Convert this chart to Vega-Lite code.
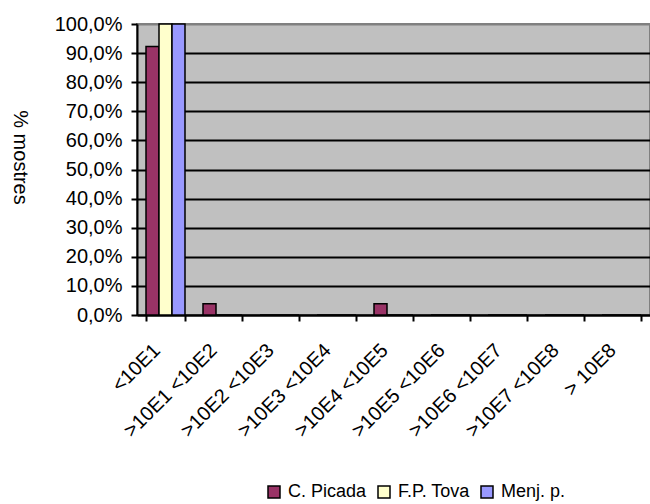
{
  "$schema": "https://vega.github.io/schema/vega-lite/v6.json",
  "width": 513,
  "height": 291,
  "autosize": {"type": "none"},
  "padding": {"left": 137, "top": 24, "right": 0, "bottom": 189},
  "background": "white",
  "config": {
    "locale": {"number": {"decimal": ",", "thousands": ".", "grouping": [3], "currency": ["", " €"]}},
    "font": "Liberation Sans",
    "view": {"fill": "#C0C0C0", "stroke": "#808080", "strokeWidth": 2},
    "axis": {
      "domainColor": "black", "domainWidth": 2,
      "tickColor": "black", "tickWidth": 2, "tickSize": 6,
      "labelColor": "black", "labelFontSize": 20, "labelFont": "Liberation Sans",
      "titleColor": "black", "titleFontSize": 20, "titleFontWeight": "normal", "titleFont": "Liberation Sans"
    },
    "legend": {"labelFont": "Liberation Sans"}
  },
  "data": {"values": [
    {"cat": "<10E1", "serie": "C. Picada", "pct": 0.923},
    {"cat": "<10E1", "serie": "F.P. Tova", "pct": 1.0},
    {"cat": "<10E1", "serie": "Menj. p.", "pct": 1.0},
    {"cat": ">10E1 <10E2", "serie": "C. Picada", "pct": 0.0385},
    {"cat": ">10E1 <10E2", "serie": "F.P. Tova", "pct": 0},
    {"cat": ">10E1 <10E2", "serie": "Menj. p.", "pct": 0},
    {"cat": ">10E2 <10E3", "serie": "C. Picada", "pct": 0},
    {"cat": ">10E2 <10E3", "serie": "F.P. Tova", "pct": 0},
    {"cat": ">10E2 <10E3", "serie": "Menj. p.", "pct": 0},
    {"cat": ">10E3 <10E4", "serie": "C. Picada", "pct": 0},
    {"cat": ">10E3 <10E4", "serie": "F.P. Tova", "pct": 0},
    {"cat": ">10E3 <10E4", "serie": "Menj. p.", "pct": 0},
    {"cat": ">10E4 <10E5", "serie": "C. Picada", "pct": 0.0385},
    {"cat": ">10E4 <10E5", "serie": "F.P. Tova", "pct": 0},
    {"cat": ">10E4 <10E5", "serie": "Menj. p.", "pct": 0},
    {"cat": ">10E5 <10E6", "serie": "C. Picada", "pct": 0},
    {"cat": ">10E5 <10E6", "serie": "F.P. Tova", "pct": 0},
    {"cat": ">10E5 <10E6", "serie": "Menj. p.", "pct": 0},
    {"cat": ">10E6 <10E7", "serie": "C. Picada", "pct": 0},
    {"cat": ">10E6 <10E7", "serie": "F.P. Tova", "pct": 0},
    {"cat": ">10E6 <10E7", "serie": "Menj. p.", "pct": 0},
    {"cat": ">10E7 <10E8", "serie": "C. Picada", "pct": 0},
    {"cat": ">10E7 <10E8", "serie": "F.P. Tova", "pct": 0},
    {"cat": ">10E7 <10E8", "serie": "Menj. p.", "pct": 0},
    {"cat": "> 10E8", "serie": "C. Picada", "pct": 0},
    {"cat": "> 10E8", "serie": "F.P. Tova", "pct": 0},
    {"cat": "> 10E8", "serie": "Menj. p.", "pct": 0}
  ]},
  "mark": {"type": "bar", "stroke": "black", "strokeWidth": 1.5},
  "encoding": {
    "x": {
      "field": "cat", "type": "nominal", "sort": null,
      "scale": {"paddingInner": 0.316, "paddingOuter": 0.158},
      "axis": {
        "title": null, "grid": false, "tickBand": "extent",
        "labelAngle": -45, "labelAlign": "right", "labelBaseline": "middle",
        "labelPadding": 26, "labelOffset": -9
      }
    },
    "xOffset": {"field": "serie", "type": "nominal", "sort": ["C. Picada", "F.P. Tova", "Menj. p."]},
    "y": {
      "field": "pct", "type": "quantitative",
      "scale": {"domain": [0, 1], "nice": false},
      "axis": {
        "values": [0, 0.1, 0.2, 0.3, 0.4, 0.5, 0.6, 0.7, 0.8, 0.9, 1.0],
        "format": ".1%",
        "grid": true, "gridWidth": 2,
        "gridColor": {"condition": {"test": "datum.value >= 1", "value": "#808080"}, "value": "black"},
        "labelPadding": 9,
        "title": "% mostres", "titleAngle": 90,
        "titleX": -118, "titleY": 133, "titleAlign": "center", "titleBaseline": "middle"
      }
    },
    "color": {
      "field": "serie", "type": "nominal",
      "scale": {"domain": ["C. Picada", "F.P. Tova", "Menj. p."], "range": ["#993366", "#FFFFCC", "#9999FF"]},
      "legend": {
        "title": null, "orient": "none", "direction": "horizontal",
        "legendX": 128, "legendY": 459,
        "symbolType": "square", "symbolSize": 144,
        "symbolStrokeColor": "black", "symbolStrokeWidth": 1.5, "symbolOpacity": 1,
        "labelFontSize": 18, "labelColor": "black", "columnPadding": 8, "labelOffset": 5
      }
    }
  }
}
